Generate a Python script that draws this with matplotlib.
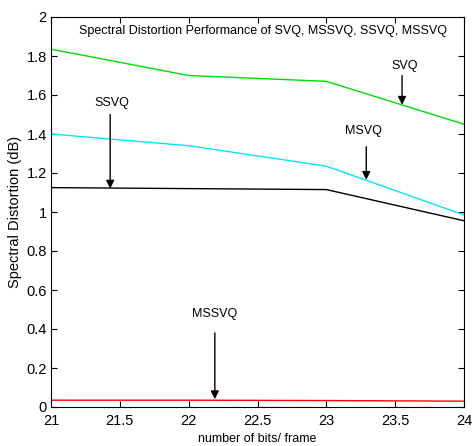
import numpy as np
import matplotlib
matplotlib.use('Agg')
import matplotlib.pyplot as plt

plt.rcParams['font.family'] = ['Liberation Sans', 'DejaVu Sans']

# data
bits = [21, 22, 23, 24]
svq = [1.835, 1.70, 1.67, 1.45]
msvq = [1.40, 1.34, 1.235, 0.985]
ssvq = [1.125, 1.12, 1.115, 0.955]
mssvq = [0.035, 0.035, 0.033, 0.030]

xticks = [21, 21.5, 22, 22.5, 23, 23.5, 24]
yticks = [0, 0.2, 0.4, 0.6, 0.8, 1, 1.2, 1.4, 1.6, 1.8, 2]

# (label, text x, text y, arrow x, arrow top, arrow tip)
notes = [
    ('SVQ', 23.57, 1.75, 23.55, 1.70, 1.55),
    ('SSVQ', 21.44, 1.56, 21.43, 1.50, 1.12),
    ('MSVQ', 23.27, 1.415, 23.29, 1.335, 1.165),
    ('MSSVQ', 22.19, 0.477, 22.19, 0.38, 0.04),
]

fig = plt.figure(figsize=(4.72, 4.46), dpi=100)
ax = fig.add_axes([51 / 472, 39 / 446, 413 / 472, 390 / 446])

ax.plot(bits, svq, color='#00dd00', lw=1)
ax.plot(bits, msvq, color='#00e5ff', lw=1)
ax.plot(bits, ssvq, color='black', lw=1)
ax.plot(bits, mssvq, color='red', lw=1)

ax.set_xlim(21, 24)
ax.set_ylim(0, 2)
ax.set_xticks(xticks)
ax.set_xticklabels(['21', '21.5', '22', '22.5', '23', '23.5', '24'])
ax.set_yticks(yticks)
ax.set_yticklabels(['0', '0.2', '0.4', '0.6', '0.8', '1', '1.2', '1.4', '1.6', '1.8', '2'])
ax.tick_params(direction='in', top=True, right=True, labelsize=10.5, length=4)
ax.tick_params(axis='x', pad=5)
ax.tick_params(axis='y', pad=3)

ax.text(22.54, 1.93, 'Spectral Distortion Performance of SVQ, MSSVQ, SSVQ, MSSVQ',
        ha='center', va='center', fontsize=9)

for label, tx, ty, axx, atop, atip in notes:
    ax.text(tx, ty, label, ha='center', va='center', fontsize=9)
    ax.annotate('', xy=(axx, atip), xytext=(axx, atop),
                arrowprops=dict(arrowstyle='-|>', color='black', lw=1,
                                mutation_scale=12, shrinkA=0, shrinkB=0))

ax.set_xlabel('number of bits/ frame', fontsize=9, labelpad=4)
ax.set_ylabel('Spectral Distortion (dB)', fontsize=10.5, labelpad=3)

fig.savefig('out.png', dpi=100)
